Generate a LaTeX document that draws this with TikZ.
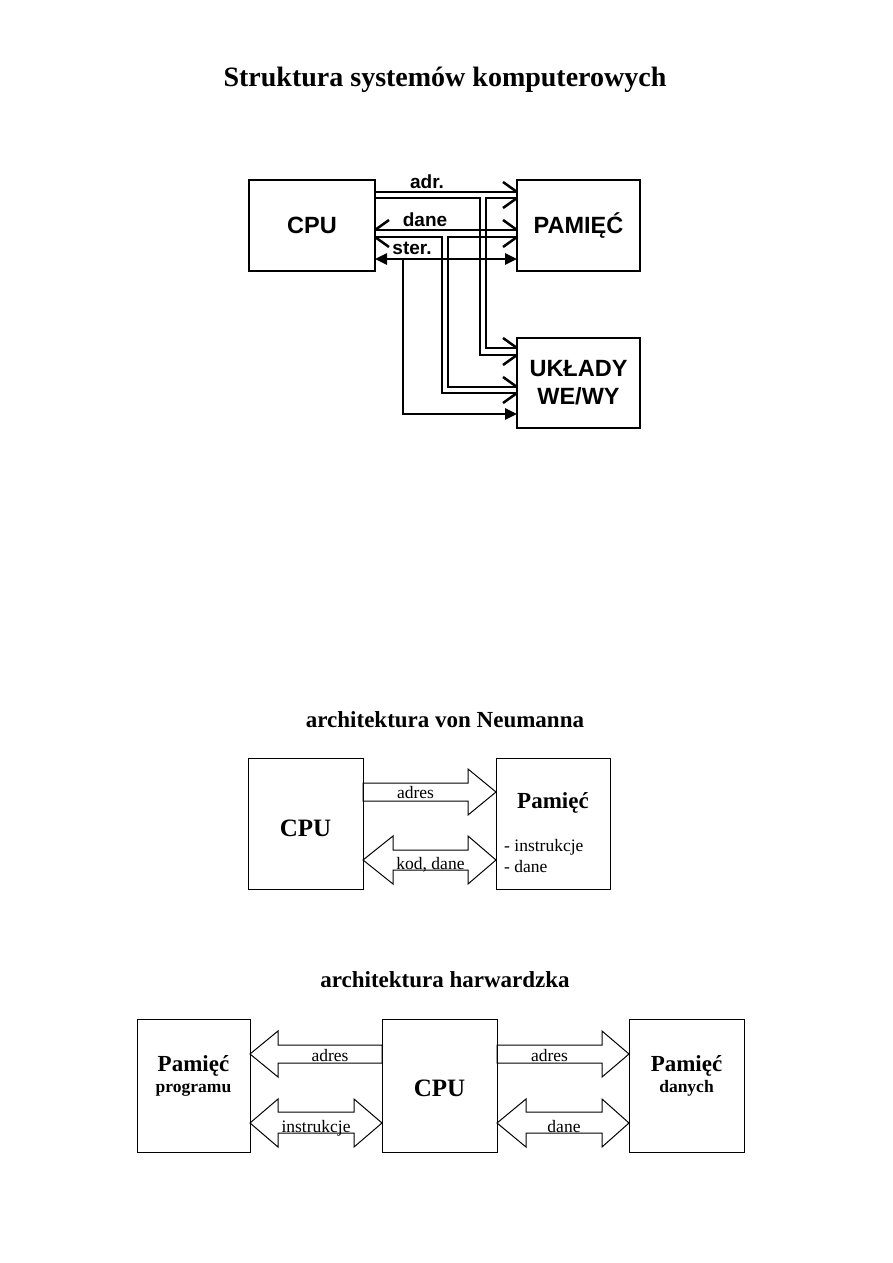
\documentclass[tikz,border=0pt]{standalone}
\usepackage{fontspec}
\setmainfont{Liberation Serif}
\setsansfont{Liberation Sans}
\usetikzlibrary{arrows.meta}
\begin{document}
\begin{tikzpicture}[x=1pt,y=-1pt,
  bbox/.style={draw, line width=2.6pt, inner sep=0pt, outer sep=0pt,
    font=\sffamily\bfseries\fontsize{23.5}{28}\selectfont, align=center},
  tbox/.style={draw, line width=1pt, inner sep=0pt, outer sep=0pt},
  bus/.style={line width=2.5pt, line cap=butt, line join=miter},
  ctl/.style={line width=2.5pt, {Triangle[length=12pt,width=11pt]}-{Triangle[length=12pt,width=11pt]}},
  ctlone/.style={line width=2.5pt, -{Triangle[length=12pt,width=11pt]}},
  blab/.style={font=\sffamily\bfseries\fontsize{19}{22}\selectfont, inner sep=0pt, anchor=base},
  fat/.style={draw, line width=1pt, line join=miter},
  slab/.style={font=\fontsize{17.5}{20}\selectfont, inner sep=0pt, anchor=base},
  ttl/.style={font=\bfseries\fontsize{23}{26}\selectfont, inner sep=0pt, anchor=base},
  pam/.style={font=\bfseries\fontsize{23}{26}\selectfont, inner sep=0pt, anchor=base},
  pams/.style={font=\bfseries\fontsize{17.5}{20}\selectfont, inner sep=0pt, anchor=base}
]
\useasboundingbox (0,0) rectangle (893,1263);

% ---------- title ----------
\node[ttl, font=\bfseries\fontsize{28}{32}\selectfont] (t1) at (445,86) {Struktura systemów komputerowych};

% ---------- top diagram ----------
\node[bbox, minimum width=126, minimum height=91] (cpu) at (312,225.5) {CPU};
\node[bbox, minimum width=123, minimum height=91] (mem) at (578.5,225.5) {PAMIĘĆ};
\node[bbox, minimum width=123, minimum height=90] (io) at (578.5,383) {UKŁADY\\WE/WY};

% adr bus
\draw[bus] (cpu.east |- 0,192) -- (mem.west |- 0,192);
\draw[bus] (cpu.east |- 0,198) -- (480,198) -- (480,355) -- (io.west |- 0,355);
\draw[bus] (mem.west |- 0,198) -- (486,198) -- (486,348) -- (io.west |- 0,348);
\draw[bus] (503,182) -- (mem.west |- 0,192);
\draw[bus] (503,208) -- (mem.west |- 0,198);
\draw[bus] (503,338) -- (io.west |- 0,348);
\draw[bus] (503,365) -- (io.west |- 0,355);
\node[blab] (ladr) at (427,188) {adr.};

% dane bus
\draw[bus] (cpu.east |- 0,230) -- (mem.west |- 0,230);
\draw[bus] (cpu.east |- 0,237) -- (442,237) -- (442,393) -- (io.west |- 0,393);
\draw[bus] (mem.west |- 0,237) -- (448,237) -- (448,387) -- (io.west |- 0,387);
\draw[bus] (503,220) -- (mem.west |- 0,230);
\draw[bus] (503,247) -- (mem.west |- 0,237);
\draw[bus] (503,377) -- (io.west |- 0,387);
\draw[bus] (503,403) -- (io.west |- 0,393);
\draw[bus] (389,220) -- (cpu.east |- 0,230);
\draw[bus] (389,247) -- (cpu.east |- 0,237);
\node[blab] (ldane) at (425,226) {dane};

% ster line
\draw[ctl] (cpu.east |- 0,259) -- (mem.west |- 0,259);
\draw[ctlone] (403,259) -- (403,414) -- (io.west |- 0,414);
\node[blab] (lster) at (412,254) {ster.};

% ---------- von Neumann ----------
\node[ttl] (t2) at (445,727) {architektura von Neumanna};
\node[tbox, minimum width=115, minimum height=131] (vcpu) at (305.5,823.5) {};
\node[tbox, minimum width=114, minimum height=131] (vmem) at (553,823.5) {};
\node[pam, font=\bfseries\fontsize{25}{28}\selectfont] (vcput) at (305.5,836) {CPU};
\node[pam] (vmemt) at (553,808) {Pamięć};
\node[slab, anchor=base west] (vi1) at (504,851) {- instrukcje};
\node[slab, anchor=base west] (vi2) at (504,872) {- dane};

\draw[fat] (vcpu.east |- 0,783) -- (468,783) -- (468,769) -- (vmem.west |- 0,792) -- (468,815) -- (468,801) -- (vcpu.east |- 0,801) -- cycle;
\node[slab] (vadr) at (415.5,798) {adres};
\draw[fat] (vcpu.east |- 0,860) -- (393,836) -- (393,850) -- (468,850) -- (468,836) -- (vmem.west |- 0,860) -- (468,884) -- (468,870) -- (393,870) -- (393,884) -- cycle;
\node[slab] (vkod) at (430.5,869) {kod, dane};

% ---------- Harvard ----------
\node[ttl] (t3) at (445,987) {architektura harwardzka};
\node[tbox, minimum width=113, minimum height=133] (hpm) at (193.5,1085.5) {};
\node[tbox, minimum width=115, minimum height=133] (hcpu) at (439.5,1085.5) {};
\node[tbox, minimum width=115, minimum height=133] (hdm) at (686.5,1085.5) {};
\node[pam] (hpm1) at (193.5,1071) {Pamięć};
\node[pams] (hpm2) at (193.5,1092) {programu};
\node[pam, font=\bfseries\fontsize{25}{28}\selectfont] (hcput) at (439.5,1096) {CPU};
\node[pam] (hdm1) at (686.5,1071) {Pamięć};
\node[pams] (hdm2) at (686.5,1092) {danych};

\draw[fat] (hcpu.west |- 0,1045) -- (278,1045) -- (278,1031) -- (hpm.east |- 0,1054) -- (278,1077) -- (278,1063) -- (hcpu.west |- 0,1063) -- cycle;
\node[slab] (hadr1) at (330,1061) {adres};
\draw[fat] (hpm.east |- 0,1123) -- (278,1099) -- (278,1112) -- (354,1112) -- (354,1099) -- (hcpu.west |- 0,1123) -- (354,1147) -- (354,1133) -- (278,1133) -- (278,1147) -- cycle;
\node[slab] (hins) at (316,1132) {instrukcje};

\draw[fat] (hcpu.east |- 0,1045) -- (602,1045) -- (602,1031) -- (hdm.west |- 0,1054) -- (602,1077) -- (602,1063) -- (hcpu.east |- 0,1063) -- cycle;
\node[slab] (hadr2) at (549.5,1061) {adres};
\draw[fat] (hcpu.east |- 0,1123) -- (526,1099) -- (526,1112) -- (602,1112) -- (602,1099) -- (hdm.west |- 0,1123) -- (602,1147) -- (602,1133) -- (526,1133) -- (526,1147) -- cycle;
\node[slab] (hdane) at (564,1132) {dane};
\end{tikzpicture}
\end{document}
